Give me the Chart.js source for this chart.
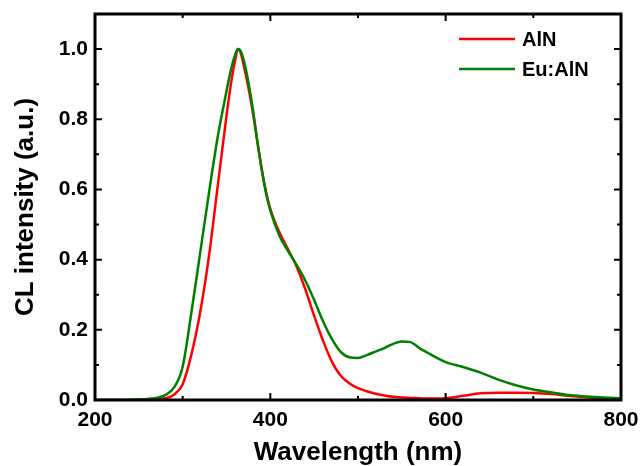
<!DOCTYPE html>
<html lang="en">
<head>
  <meta charset="UTF-8">
  <title>CL spectra AlN / Eu:AlN</title>
  <script src="https://cdn.jsdelivr.net/npm/chart.js"></script>
  <style>
    html, body { margin: 0; padding: 0; background: #fff; }
    .chart-container { position: relative; width: 641px; height: 466px; }
  </style>
</head>
<body>
  <div class="chart-container">
    <canvas id="clChart"></canvas>
  </div>

  <script>
    // Data
    const wavelength = [200, 220, 240, 260, 270, 280, 290, 300, 310, 320, 330, 340, 350, 355, 360, 363, 366, 370, 375, 380,
      385, 390, 395, 400, 410, 420, 430, 440, 450, 460, 470, 480, 490, 500, 510, 520, 530, 540, 550, 560,
      570, 580, 590, 600, 620, 640, 660, 680, 700, 720, 740, 760, 780, 800];
    const alnValues = [0, 0, 0, 0.001, 0.002, 0.005, 0.015, 0.045, 0.13, 0.25, 0.41, 0.61, 0.81, 0.9, 0.97, 1.0, 0.99, 0.95, 0.89, 0.82,
      0.74, 0.66, 0.595, 0.545, 0.48, 0.43, 0.38, 0.315, 0.24, 0.17, 0.11, 0.07, 0.048, 0.034, 0.025, 0.018, 0.013, 0.009, 0.007, 0.006,
      0.005, 0.004, 0.004, 0.005, 0.012, 0.019, 0.021, 0.021, 0.02, 0.017, 0.012, 0.008, 0.004, 0.002];
    const euAlnValues = [0, 0, 0.001, 0.003, 0.006, 0.014, 0.035, 0.095, 0.25, 0.42, 0.59, 0.75, 0.88, 0.94, 0.985, 1.0, 0.995, 0.965, 0.905, 0.83,
      0.74, 0.66, 0.59, 0.54, 0.47, 0.425, 0.385, 0.34, 0.285, 0.225, 0.175, 0.138, 0.122, 0.12, 0.128, 0.138, 0.148, 0.16, 0.167, 0.165,
      0.148, 0.134, 0.12, 0.108, 0.094, 0.078, 0.058, 0.042, 0.03, 0.022, 0.014, 0.01, 0.007, 0.005];

    const seriesLabels = ['AlN', 'Eu:AlN'];
    const seriesColors = ['#ff0000', '#008000'];

    const xMajorTicks = [200, 400, 600, 800];
    const xMinorTicks = [300, 500, 700];
    const yMajorTicks = [0, 0.2, 0.4, 0.6, 0.8, 1.0];
    const yMinorTicks = [0.1, 0.3, 0.5, 0.7, 0.9];

    const FONT = '"Liberation Sans", Arial, sans-serif';

    function toPoints(values) {
      return wavelength.map((w, i) => ({ x: w, y: values[i] }));
    }

    // box frame with inward ticks on all four sides
    const frameTicks = {
      id: 'frameTicks',
      afterDatasetsDraw(chart) {
        const { ctx, chartArea: a, scales: { x, y } } = chart;
        ctx.save();
        ctx.strokeStyle = '#000';
        ctx.lineWidth = 2;
        ctx.beginPath();
        xMajorTicks.concat(xMinorTicks).forEach(v => {
          const len = xMajorTicks.includes(v) ? 7 : 4;
          const px = x.getPixelForValue(v);
          ctx.moveTo(px, a.bottom); ctx.lineTo(px, a.bottom - len);
          ctx.moveTo(px, a.top); ctx.lineTo(px, a.top + len);
        });
        yMajorTicks.concat(yMinorTicks).forEach(v => {
          const len = yMajorTicks.includes(v) ? 7 : 4;
          const py = y.getPixelForValue(v);
          ctx.moveTo(a.left, py); ctx.lineTo(a.left + len, py);
          ctx.moveTo(a.right, py); ctx.lineTo(a.right - len, py);
        });
        ctx.stroke();
        ctx.lineWidth = 3;
        ctx.strokeRect(a.left, a.top, a.right - a.left, a.bottom - a.top);
        ctx.restore();
      }
    };

    // legend drawn inside the plot, top right
    const insideLegend = {
      id: 'insideLegend',
      afterDraw(chart) {
        const { ctx, chartArea: a } = chart;
        ctx.save();
        ctx.font = 'bold 20px ' + FONT;
        ctx.textBaseline = 'middle';
        ctx.textAlign = 'left';
        chart.data.datasets.forEach((ds, i) => {
          const yy = a.top + 25 + i * 30;
          ctx.strokeStyle = ds.borderColor;
          ctx.lineWidth = 2.5;
          ctx.beginPath();
          ctx.moveTo(a.right - 162, yy);
          ctx.lineTo(a.right - 106, yy);
          ctx.stroke();
          ctx.fillStyle = '#000';
          ctx.fillText(ds.label, a.right - 99, yy + 1);
        });
        ctx.restore();
      }
    };

    const ctx = document.getElementById('clChart').getContext('2d');
    new Chart(ctx, {
      type: 'line',
      data: {
        datasets: [
          {
            label: seriesLabels[0],
            data: toPoints(alnValues),
            borderColor: seriesColors[0],
            borderWidth: 2.5,
            pointRadius: 0,
            cubicInterpolationMode: 'monotone',
            order: 1
          },
          {
            label: seriesLabels[1],
            data: toPoints(euAlnValues),
            borderColor: seriesColors[1],
            borderWidth: 2.5,
            pointRadius: 0,
            cubicInterpolationMode: 'monotone',
            order: 0
          }
        ]
      },
      options: {
        responsive: true,
        maintainAspectRatio: false,
        animation: false,
        layout: { padding: { left: 0, top: 14, right: 20, bottom: 0 } },
        plugins: { legend: { display: false }, tooltip: { enabled: false } },
        scales: {
          x: {
            type: 'linear',
            min: 200,
            max: 800,
            afterBuildTicks: axis => { axis.ticks = xMajorTicks.map(v => ({ value: v })); },
            afterFit: scale => {
              scale.height = 66;
              scale.paddingLeft = 0;
              scale.paddingRight = 0;
            },
            grid: { display: false, drawTicks: false },
            border: { display: false },
            ticks: {
              padding: 8,
              color: '#000',
              maxRotation: 0,
              font: { family: FONT, size: 21, weight: 'bold' }
            },
            title: {
              display: true,
              text: 'Wavelength (nm)',
              color: '#000',
              font: { family: FONT, size: 26, weight: 'bold', lineHeight: 1 },
              padding: { top: 0, bottom: 0 }
            }
          },
          y: {
            min: 0,
            max: 1.1,
            afterBuildTicks: axis => { axis.ticks = yMajorTicks.map(v => ({ value: v })); },
            afterFit: scale => {
              scale.width = 95;
              scale.paddingTop = 0;
              scale.paddingBottom = 0;
            },
            grid: { display: false, drawTicks: false },
            border: { display: false },
            ticks: {
              padding: 7,
              color: '#000',
              callback: v => Number(v).toFixed(1),
              font: { family: FONT, size: 21, weight: 'bold' }
            },
            title: {
              display: true,
              text: 'CL intensity (a.u.)',
              color: '#000',
              font: { family: FONT, size: 26, weight: 'bold', lineHeight: 1 },
              padding: { top: 13, bottom: 0 }
            }
          }
        }
      },
      plugins: [frameTicks, insideLegend]
    });
  </script>
</body>
</html>
